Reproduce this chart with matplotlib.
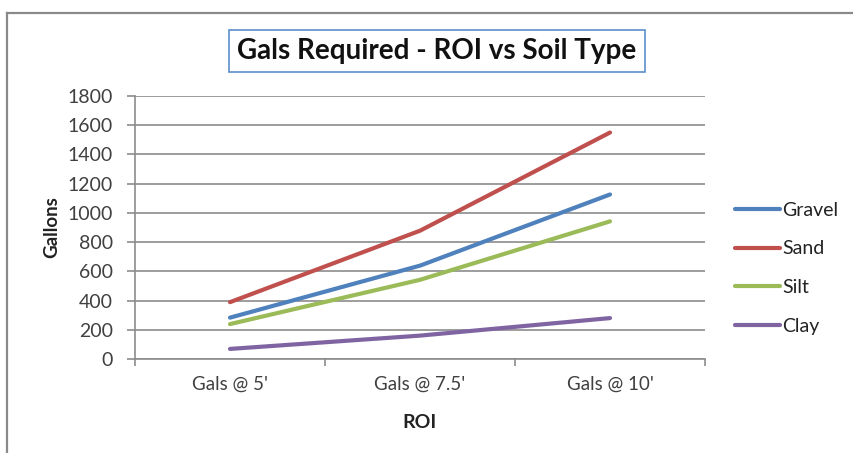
import matplotlib.pyplot as plt
from matplotlib.lines import Line2D

categories = ["Gals @ 5'", "Gals @ 7.5'", "Gals @ 10'"]
gravel = [283, 639, 1126]
sand = [389, 878, 1550]
silt = [239, 542, 942]
clay = [69, 160, 280]

series = [
    ("Gravel", gravel, '#4F81BD'),
    ("Sand", sand, '#C0504D'),
    ("Silt", silt, '#9BBB59'),
    ("Clay", clay, '#8064A2'),
]

plt.rcParams['font.family'] = ['Lato', 'DejaVu Sans']
text_color = '#404040'
grid_color = '#8c8c8c'

W, H = 854, 453
fig = plt.figure(figsize=(W / 100, H / 100), dpi=100, facecolor='white')

# outer chart border (top and left visible)
fig.add_artist(Line2D([7 / W, 1], [1 - 13 / H, 1 - 13 / H], color='#8a8a8a', lw=1.6))
fig.add_artist(Line2D([7 / W, 7 / W], [0, 1 - 13 / H], color='#8a8a8a', lw=1.6))

ax = fig.add_axes([135 / W, (H - 359) / H, 570 / W, 263 / H])

x = range(len(categories))
for name, vals, color in series:
    ax.plot(x, vals, color=color, lw=3.0, label=name, solid_capstyle='round')

ax.set_xlim(-0.5, len(categories) - 0.5)
ax.set_ylim(0, 1800)
ax.set_yticks(range(0, 1801, 200))
ax.set_xticks(list(x))
ax.set_xticklabels(categories, fontsize=13.5, color=text_color)
ax.set_xticks([-0.5, 0.5, 1.5, 2.5], minor=True)
ax.tick_params(axis='x', which='major', length=0, pad=12)
ax.tick_params(axis='x', which='minor', length=5, width=1.2, color=grid_color, direction='out')
ax.tick_params(axis='y', length=6, width=1.2, color=grid_color, labelsize=14,
               labelcolor=text_color, pad=10)

ax.grid(axis='y', color=grid_color, lw=1.2)
ax.set_axisbelow(True)
for s in ['top', 'right']:
    ax.spines[s].set_visible(False)
for s in ['left', 'bottom']:
    ax.spines[s].set_color(grid_color)
    ax.spines[s].set_linewidth(1.2)

ax.set_ylabel('Gallons', fontsize=13.5, fontweight='bold', color='#222222', labelpad=5)
ax.set_xlabel('ROI', fontsize=14, fontweight='bold', color='#222222', labelpad=15)

fig.text(437 / W, 1 - 51 / H, 'Gals Required - ROI vs Soil Type', fontsize=20,
         fontweight='bold', ha='center', va='center', color='#111111',
         bbox=dict(boxstyle='square,pad=0.3', facecolor='white', edgecolor='#5B8FC9', lw=1.2))

leg = ax.legend(loc='center left', frameon=False,
                fontsize=14, handlelength=2.3, handletextpad=0.1, labelspacing=1.12,
                borderpad=0, borderaxespad=0)
for t in leg.get_texts():
    t.set_color('#222222')
leg.set_bbox_to_anchor((1.053, 0.345), transform=ax.transAxes)

fig.savefig('out.png', dpi=100, facecolor='white')
